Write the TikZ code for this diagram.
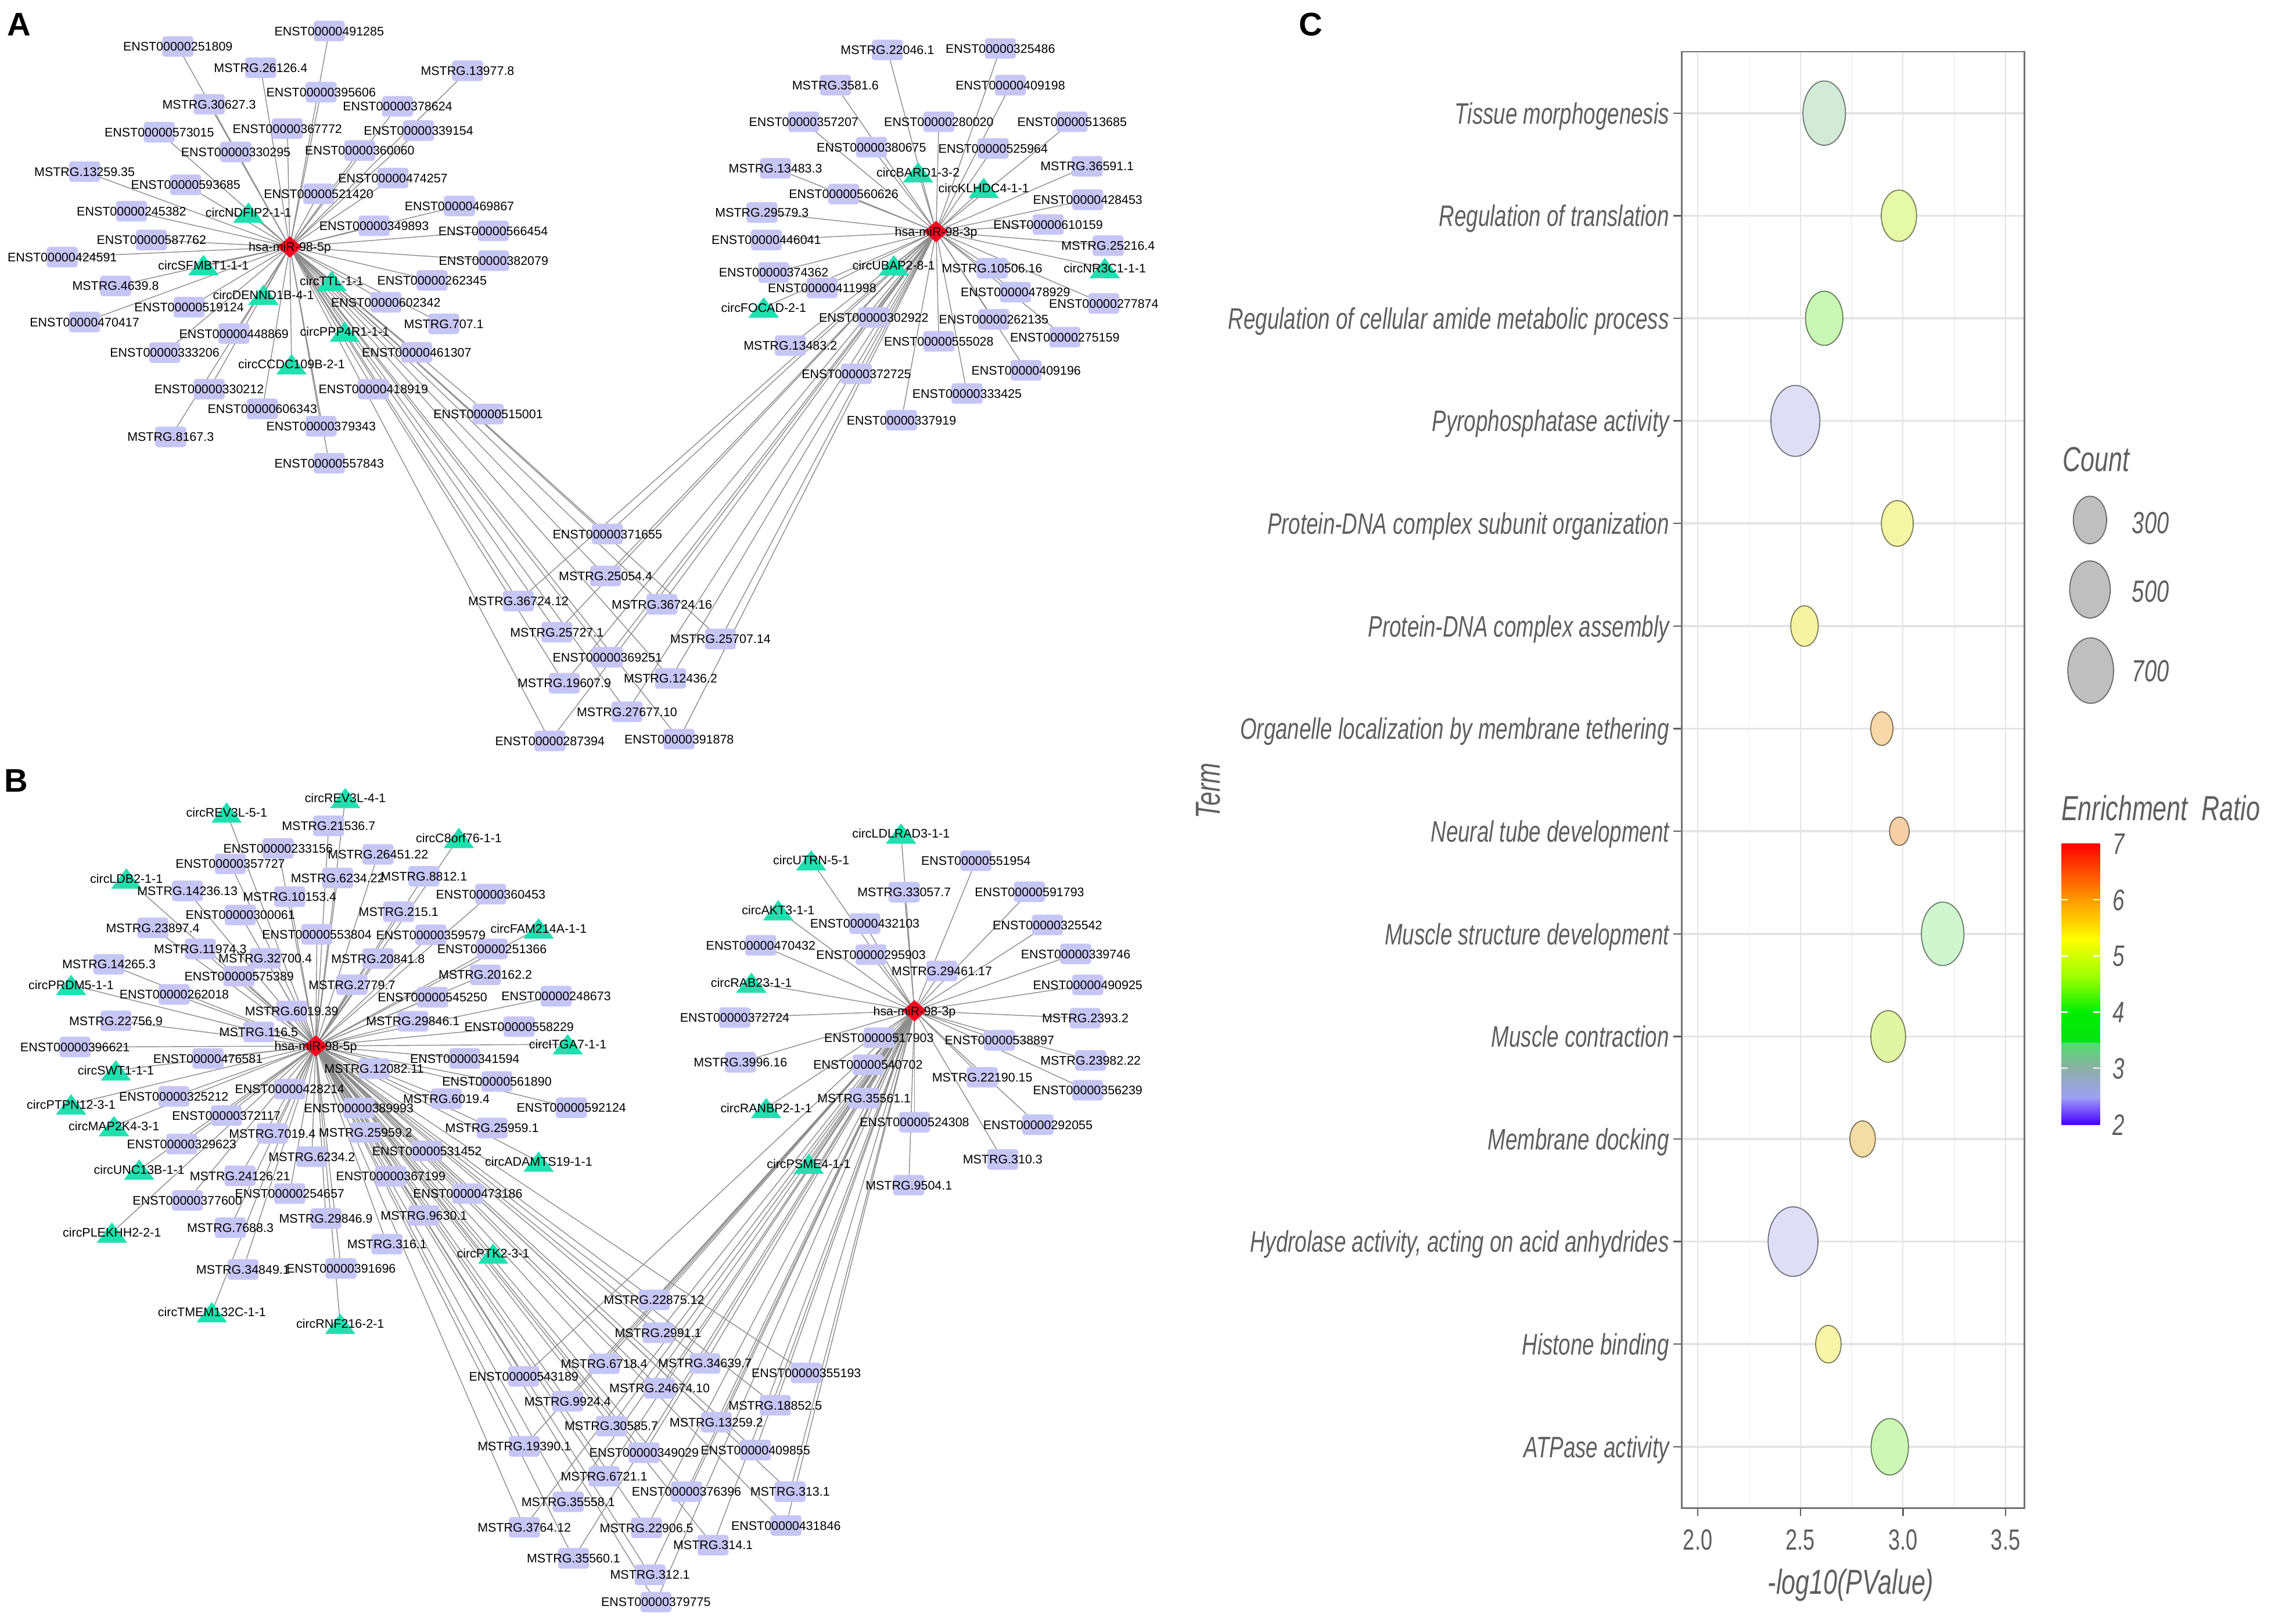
\documentclass[tikz,border=0pt]{standalone}
\usepackage{fontspec}
\setmainfont{Liberation Sans}
\newfontfamily\cf[FakeStretch=0.72]{Liberation Sans}
\usetikzlibrary{shapes.geometric}
\definecolor{boxc}{HTML}{C6C6F6}
\definecolor{triC}{HTML}{20E0B0}
\definecolor{hubC}{HTML}{FF0020}
\definecolor{edgeC}{HTML}{8C8C8C}
\definecolor{txtC}{HTML}{5E5E5E}
\definecolor{gridC}{HTML}{E4E4E4}
\definecolor{gridM}{HTML}{F0F0F0}
\definecolor{dA}{HTML}{D3EAD8}
\definecolor{dB}{HTML}{E6F9A6}
\definecolor{dC}{HTML}{C9F7B5}
\definecolor{dD}{HTML}{DEDEF7}
\definecolor{dE}{HTML}{F4F6A4}
\definecolor{dF}{HTML}{F6F4A2}
\definecolor{dG}{HTML}{F8D8A8}
\definecolor{dH}{HTML}{F8CFA6}
\definecolor{dI}{HTML}{CFF6CF}
\definecolor{dJ}{HTML}{E0F6A4}
\definecolor{dK}{HTML}{F4DCA6}
\definecolor{dL}{HTML}{DEDEF7}
\definecolor{dM}{HTML}{F8F4A8}
\definecolor{dN}{HTML}{CCF7B4}
\pgfdeclarelayer{back}\pgfdeclarelayer{bg}\pgfdeclarelayer{mid}
\pgfsetlayers{back,bg,mid,main}
\tikzset{
 tbox/.style={rectangle, rounded corners=0.05cm, fill=boxc, minimum width=0.536cm, minimum height=0.354cm, inner sep=0pt},
 tri/.style={rectangle, inner sep=0pt, minimum width=0.524cm, minimum height=0.349cm,
   path picture={\fill[triC] (path picture bounding box.south west) -- (path picture bounding box.south east) -- (path picture bounding box.north) -- cycle;}},
 hub/.style={diamond, fill=hubC, minimum width=0.424cm, minimum height=0.374cm, inner sep=0pt},
 lab/.style={inner sep=0pt, font=\fontsize{6.1}{7}\selectfont, text height=4.4pt, text depth=0pt},
 lnk/.style={draw=edgeC, line width=0.4pt},
 ctxt/.style={inner sep=0pt, text=txtC, text depth=0pt},
 pletter/.style={inner sep=0pt, font=\fontsize{16}{18}\selectfont\bfseries},
}
\newcommand\NdBox[4]{\begin{pgfonlayer}{mid}\node[tbox] (#1) at (#2,#3) {};\end{pgfonlayer}\node[lab] (#1l) at (#2,#3) {#4};}
\newcommand\NdTri[4]{\begin{pgfonlayer}{mid}\node[tri] (#1) at (#2,#3) {};\end{pgfonlayer}\node[lab] (#1l) at (#2,#3) {#4};}
\newcommand\NdHub[4]{\begin{pgfonlayer}{mid}\node[hub] (#1) at (#2,#3) {};\end{pgfonlayer}\node[lab] (#1l) at (#2,#3) {#4};}
\begin{document}
\begin{tikzpicture}[x=0.024936cm, y=-0.024936cm]
\useasboundingbox (0,0) rectangle (1568,1121);
\begin{pgfonlayer}{back}
\fill[white] (0,0) rectangle (1568,1121);
\end{pgfonlayer}
\node[pletter] (pA) at (13,17) {A};
\node[pletter] (pB) at (11,539) {B};
\node[pletter] (pC) at (905,17) {C};
% ================= PANEL A left
\NdHub{ha}{200.1}{170.5}{hsa-miR-98-5p}
\NdBox{a1}{227.3}{21.4}{ENST00000491285}
\NdBox{a2}{122.8}{32.1}{ENST00000251809}
\NdBox{a3}{180.0}{46.8}{MSTRG.26126.4}
\NdBox{a4}{322.8}{48.9}{MSTRG.13977.8}
\NdBox{a5}{221.7}{63.6}{ENST00000395606}
\NdBox{a6}{144.4}{72.0}{MSTRG.30627.3}
\NdBox{a7}{274.5}{73.4}{ENST00000378624}
\NdBox{a8}{110.0}{91.3}{ENST00000573015}
\NdBox{a9}{198.4}{88.8}{ENST00000367772}
\NdBox{a10}{289.0}{90.2}{ENST00000339154}
\NdBox{a11}{162.8}{104.9}{ENST00000330295}
\NdBox{a12}{248.4}{103.9}{ENST00000360060}
\NdBox{a13}{58.4}{118.5}{MSTRG.13259.35}
\NdBox{a14}{128.2}{127.6}{ENST00000593685}
\NdBox{a15}{271.3}{122.9}{ENST00000474257}
\NdBox{a16}{220.0}{133.8}{ENST00000521420}
\NdBox{a17}{90.8}{145.8}{ENST00000245382}
\NdBox{a18}{317.2}{142.2}{ENST00000469867}
\NdBox{a19}{258.3}{155.9}{ENST00000349893}
\NdBox{a20}{340.5}{159.4}{ENST00000566454}
\NdBox{a21}{104.6}{165.7}{ENST00000587762}
\NdBox{a22}{43.0}{177.5}{ENST00000424591}
\NdBox{a23}{340.8}{180.0}{ENST00000382079}
\NdBox{a24}{298.3}{193.6}{ENST00000262345}
\NdBox{a25}{79.8}{197.4}{MSTRG.4639.8}
\NdBox{a26}{266.4}{208.7}{ENST00000602342}
\NdBox{a27}{130.6}{212.1}{ENST00000519124}
\NdBox{a28}{58.4}{222.3}{ENST00000470417}
\NdBox{a29}{306.4}{223.6}{MSTRG.707.1}
\NdBox{a30}{161.5}{230.3}{ENST00000448869}
\NdBox{a31}{113.7}{243.5}{ENST00000333206}
\NdBox{a32}{287.7}{243.3}{ENST00000461307}
\NdBox{a33}{144.4}{268.7}{ENST00000330212}
\NdBox{a34}{257.8}{268.7}{ENST00000418919}
\NdBox{a35}{181.2}{282.3}{ENST00000606343}
\NdBox{a36}{337.1}{285.9}{ENST00000515001}
\NdBox{a37}{221.7}{294.3}{ENST00000379343}
\NdBox{a38}{117.8}{301.6}{MSTRG.8167.3}
\NdBox{a39}{227.3}{319.8}{ENST00000557843}
\NdTri{ta1}{171.5}{146.8}{circNDFIP2-1-1}
\NdTri{ta2}{140.5}{183.0}{circSFMBT1-1-1}
\NdTri{ta3}{229.0}{194.0}{circTTL-1-1}
\NdTri{ta4}{181.9}{203.5}{circDENND1B-4-1}
\NdTri{ta5}{238.0}{229.0}{circPPP4R1-1-1}
\NdTri{ta6}{201.3}{251.5}{circCCDC109B-2-1}
% ================= PANEL A right
\NdHub{hb}{646.3}{159.9}{hsa-miR-98-3p}
\NdBox{b1}{612.7}{34.5}{MSTRG.22046.1}
\NdBox{b2}{690.7}{33.5}{ENST00000325486}
\NdBox{b3}{576.8}{58.8}{MSTRG.3581.6}
\NdBox{b4}{697.6}{58.8}{ENST00000409198}
\NdBox{b5}{554.9}{84.1}{ENST00000357207}
\NdBox{b6}{648.2}{84.1}{ENST00000280020}
\NdBox{b7}{740.2}{84.1}{ENST00000513685}
\NdBox{b8}{601.7}{101.6}{ENST00000380675}
\NdBox{b9}{685.7}{102.5}{ENST00000525964}
\NdBox{b10}{535.4}{116.2}{MSTRG.13483.3}
\NdBox{b11}{750.6}{114.8}{MSTRG.36591.1}
\NdBox{b12}{582.5}{134.0}{ENST00000560626}
\NdBox{b13}{751.0}{137.9}{ENST00000428453}
\NdBox{b14}{526.1}{146.7}{MSTRG.29579.3}
\NdBox{b15}{723.7}{155.0}{ENST00000610159}
\NdBox{b16}{529.1}{165.7}{ENST00000446041}
\NdBox{b17}{765.1}{169.6}{MSTRG.25216.4}
\NdBox{b18}{685.0}{185.2}{MSTRG.10506.16}
\NdBox{b19}{534.2}{188.1}{ENST00000374362}
\NdBox{b20}{567.6}{198.8}{ENST00000411998}
\NdBox{b21}{701.1}{201.7}{ENST00000478929}
\NdBox{b22}{762.1}{209.5}{ENST00000277874}
\NdBox{b23}{603.3}{219.2}{ENST00000302922}
\NdBox{b24}{686.1}{220.5}{ENST00000262135}
\NdBox{b25}{735.2}{232.8}{ENST00000275159}
\NdBox{b26}{545.7}{238.6}{MSTRG.13483.2}
\NdBox{b27}{648.2}{235.7}{ENST00000555028}
\NdBox{b28}{708.5}{255.7}{ENST00000409196}
\NdBox{b29}{591.3}{258.1}{ENST00000372725}
\NdBox{b30}{667.7}{271.7}{ENST00000333425}
\NdBox{b31}{622.4}{290.1}{ENST00000337919}
\NdTri{tb1}{633.9}{119.0}{circBARD1-3-2}
\NdTri{tb2}{679.2}{129.7}{circKLHDC4-1-1}
\NdTri{tb3}{617.1}{183.2}{circUBAP2-8-1}
\NdTri{tb4}{762.8}{185.1}{circNR3C1-1-1}
\NdTri{tb5}{527.3}{212.3}{circFOCAD-2-1}
% ================= PANEL A bottom (shared)
\NdBox{c1}{419.4}{368.7}{ENST00000371655}
\NdBox{c2}{418.1}{397.7}{MSTRG.25054.4}
\NdBox{c3}{357.9}{415.0}{MSTRG.36724.12}
\NdBox{c4}{457.0}{417.2}{MSTRG.36724.16}
\NdBox{c5}{384.5}{436.5}{MSTRG.25727.1}
\NdBox{c6}{497.4}{441.2}{MSTRG.25707.14}
\NdBox{c7}{419.4}{453.8}{ENST00000369251}
\NdBox{c8}{463.0}{468.4}{MSTRG.12436.2}
\NdBox{c9}{389.6}{471.7}{MSTRG.19607.9}
\NdBox{c10}{432.9}{491.4}{MSTRG.27677.10}
\NdBox{c11}{379.7}{511.6}{ENST00000287394}
\NdBox{c12}{468.9}{510.3}{ENST00000391878}
% ================= PANEL B left
\NdHub{hd}{218.0}{722.2}{hsa-miR-98-5p}
\NdBox{d1}{226.9}{570.2}{MSTRG.21536.7}
\NdBox{d2}{192.0}{585.8}{ENST00000233156}
\NdBox{d3}{261.0}{589.9}{MSTRG.26451.22}
\NdBox{d4}{159.0}{596.4}{ENST00000357727}
\NdBox{d5}{233.1}{606.2}{MSTRG.6234.22}
\NdBox{d6}{292.7}{605.0}{MSTRG.8812.1}
\NdBox{d7}{129.4}{615.1}{MSTRG.14236.13}
\NdBox{d8}{200.0}{619.1}{MSTRG.10153.4}
\NdBox{d9}{338.8}{617.3}{ENST00000360453}
\NdBox{d10}{165.9}{631.7}{ENST00000300061}
\NdBox{d11}{275.2}{629.5}{MSTRG.215.1}
\NdBox{d12}{105.5}{640.6}{MSTRG.23897.4}
\NdBox{d13}{218.8}{645.1}{ENST00000553804}
\NdBox{d14}{297.5}{645.4}{ENST00000359579}
\NdBox{d15}{138.3}{655.2}{MSTRG.11974.3}
\NdBox{d16}{183.1}{661.7}{MSTRG.32700.4}
\NdBox{d17}{261.0}{661.8}{MSTRG.20841.8}
\NdBox{d18}{339.7}{655.2}{ENST00000251366}
\NdBox{d19}{75.2}{665.8}{MSTRG.14265.3}
\NdBox{d20}{165.1}{674.0}{ENST00000575389}
\NdBox{d21}{335.1}{673.0}{MSTRG.20162.2}
\NdBox{d22}{243.0}{679.9}{MSTRG.2779.7}
\NdBox{d23}{120.3}{686.6}{ENST00000262018}
\NdBox{d24}{298.6}{688.5}{ENST00000545250}
\NdBox{d25}{384.0}{687.8}{ENST00000248673}
\NdBox{d26}{201.4}{698.0}{MSTRG.6019.39}
\NdBox{d27}{80.0}{704.8}{MSTRG.22756.9}
\NdBox{d28}{285.1}{705.1}{MSTRG.29846.1}
\NdBox{d29}{358.4}{708.8}{ENST00000558229}
\NdBox{d30}{178.6}{712.5}{MSTRG.116.5}
\NdBox{d31}{51.8}{722.9}{ENST00000396621}
\NdBox{d32}{143.6}{730.8}{ENST00000476581}
\NdBox{d33}{320.9}{730.8}{ENST00000341594}
\NdBox{d34}{258.3}{737.8}{MSTRG.12082.11}
\NdBox{d35}{343.1}{746.7}{ENST00000561890}
\NdBox{d36}{200.0}{751.9}{ENST00000428214}
\NdBox{d37}{120.0}{757.0}{ENST00000325212}
\NdBox{d38}{247.8}{765.1}{ENST00000389993}
\NdBox{d39}{308.2}{758.6}{MSTRG.6019.4}
\NdBox{d40}{394.5}{764.8}{ENST00000592124}
\NdBox{d41}{156.3}{770.2}{ENST00000372117}
\NdBox{d42}{188.0}{782.5}{MSTRG.7019.4}
\NdBox{d43}{252.4}{781.9}{MSTRG.25959.2}
\NdBox{d44}{339.7}{778.8}{MSTRG.25959.1}
\NdBox{d45}{125.4}{789.9}{ENST00000329623}
\NdBox{d46}{294.8}{794.6}{ENST00000531452}
\NdBox{d47}{215.3}{798.6}{MSTRG.6234.2}
\NdBox{d48}{165.7}{811.8}{MSTRG.24126.21}
\NdBox{d49}{269.8}{812.1}{ENST00000367199}
\NdBox{d50}{200.0}{824.1}{ENST00000254657}
\NdBox{d51}{323.0}{824.1}{ENST00000473186}
\NdBox{d52}{129.4}{828.8}{ENST00000377600}
\NdBox{d53}{225.0}{841.3}{MSTRG.29846.9}
\NdBox{d54}{292.7}{839.2}{MSTRG.9630.1}
\NdBox{d55}{159.0}{847.6}{MSTRG.7688.3}
\NdBox{d56}{267.2}{859.0}{MSTRG.316.1}
\NdBox{d57}{167.8}{876.5}{MSTRG.34849.1}
\NdBox{d58}{235.5}{875.8}{ENST00000391696}
\NdTri{td1}{238.4}{551.0}{circREV3L-4-1}
\NdTri{td2}{156.5}{561.0}{circREV3L-5-1}
\NdTri{td3}{316.8}{578.5}{circC8orf76-1-1}
\NdTri{td4}{87.3}{606.5}{circLDB2-1-1}
\NdTri{td5}{371.9}{641.0}{circFAM214A-1-1}
\NdTri{td6}{49.1}{680.0}{circPRDM5-1-1}
\NdTri{td7}{392.0}{721.0}{circITGA7-1-1}
\NdTri{td8}{80.0}{739.0}{circSWT1-1-1}
\NdTri{td9}{49.1}{762.5}{circPTPN12-3-1}
\NdTri{td10}{78.7}{777.5}{circMAP2K4-3-1}
\NdTri{td11}{371.9}{802.0}{circADAMTS19-1-1}
\NdTri{td12}{96.1}{807.5}{circUNC13B-1-1}
\NdTri{td13}{77.3}{851.0}{circPLEKHH2-2-1}
\NdTri{td14}{340.5}{865.5}{circPTK2-3-1}
\NdTri{td15}{146.3}{906.0}{circTMEM132C-1-1}
\NdTri{td16}{234.9}{914.0}{circRNF216-2-1}
% ================= PANEL B right
\NdHub{he}{631.4}{697.9}{hsa-miR-98-3p}
\NdBox{e1}{673.8}{594.3}{ENST00000551954}
\NdBox{e2}{624.3}{616.0}{MSTRG.33057.7}
\NdBox{e3}{710.8}{615.7}{ENST00000591793}
\NdBox{e4}{597.1}{637.7}{ENST00000432103}
\NdBox{e5}{723.2}{638.6}{ENST00000325542}
\NdBox{e6}{525.3}{652.7}{ENST00000470432}
\NdBox{e7}{601.4}{659.1}{ENST00000295903}
\NdBox{e8}{742.7}{658.6}{ENST00000339746}
\NdBox{e9}{650.3}{670.4}{MSTRG.29461.17}
\NdBox{e10}{751.0}{680.0}{ENST00000490925}
\NdBox{e11}{507.3}{702.6}{ENST00000372724}
\NdBox{e12}{749.3}{703.0}{MSTRG.2393.2}
\NdBox{e13}{606.9}{716.5}{ENST00000517903}
\NdBox{e14}{690.1}{718.3}{ENST00000538897}
\NdBox{e15}{511.2}{733.4}{MSTRG.3996.16}
\NdBox{e16}{753.0}{732.2}{MSTRG.23982.22}
\NdBox{e17}{599.3}{735.1}{ENST00000540702}
\NdBox{e18}{678.2}{743.8}{MSTRG.22190.15}
\NdBox{e19}{751.0}{752.7}{ENST00000356239}
\NdBox{e20}{596.6}{758.3}{MSTRG.35561.1}
\NdBox{e21}{631.4}{774.8}{ENST00000524308}
\NdBox{e22}{716.6}{776.5}{ENST00000292055}
\NdBox{e23}{692.3}{800.5}{MSTRG.310.3}
\NdBox{e24}{627.5}{818.3}{MSTRG.9504.1}
\NdTri{te1}{622.1}{575.5}{circLDLRAD3-1-1}
\NdTri{te2}{560.1}{594.0}{circUTRN-5-1}
\NdTri{te3}{537.3}{628.5}{circAKT3-1-1}
\NdTri{te4}{518.8}{678.5}{circRAB23-1-1}
\NdTri{te5}{529.0}{765.0}{circRANBP2-1-1}
\NdTri{te6}{558.4}{803.5}{circPSME4-1-1}
% ================= PANEL B bottom (shared)
\NdBox{f1}{451.6}{897.5}{MSTRG.22875.12}
\NdBox{f2}{454.4}{920.2}{MSTRG.2991.1}
\NdBox{f3}{417.1}{941.6}{MSTRG.6718.4}
\NdBox{f4}{486.7}{941.3}{MSTRG.34639.7}
\NdBox{f5}{361.6}{950.3}{ENST00000543189}
\NdBox{f6}{556.7}{947.9}{ENST00000355193}
\NdBox{f7}{455.4}{958.5}{MSTRG.24674.10}
\NdBox{f8}{391.9}{967.5}{MSTRG.9924.4}
\NdBox{f9}{535.3}{970.2}{MSTRG.18852.5}
\NdBox{f10}{494.6}{982.0}{MSTRG.13259.2}
\NdBox{f11}{422.1}{984.6}{MSTRG.30585.7}
\NdBox{f12}{362.0}{998.6}{MSTRG.19390.1}
\NdBox{f13}{444.7}{1003.0}{ENST00000349029}
\NdBox{f14}{521.6}{1001.2}{ENST00000409855}
\NdBox{f15}{417.1}{1019.3}{MSTRG.6721.1}
\NdBox{f16}{474.0}{1029.9}{ENST00000376396}
\NdBox{f17}{545.5}{1029.9}{MSTRG.313.1}
\NdBox{f18}{392.3}{1036.9}{MSTRG.35558.1}
\NdBox{f19}{362.0}{1054.5}{MSTRG.3764.12}
\NdBox{f20}{446.4}{1054.8}{MSTRG.22906.5}
\NdBox{f21}{542.7}{1053.2}{ENST00000431846}
\NdBox{f22}{492.3}{1066.8}{MSTRG.314.1}
\NdBox{f23}{396.0}{1075.9}{MSTRG.35560.1}
\NdBox{f24}{448.8}{1087.2}{MSTRG.312.1}
\NdBox{f25}{452.9}{1106.1}{ENST00000379775}
% ================= edges
\begin{pgfonlayer}{bg}
\foreach \i in {1,...,39} \draw[lnk] (ha.center) -- (a\i.center);
\foreach \i in {1,...,6} \draw[lnk] (ha.center) -- (ta\i.center);
\foreach \i in {1,...,31} \draw[lnk] (hb.center) -- (b\i.center);
\foreach \i in {1,...,5} \draw[lnk] (hb.center) -- (tb\i.center);
\foreach \i in {1,...,12} {\draw[lnk] (ha.center) -- (c\i.center); \draw[lnk] (hb.center) -- (c\i.center);}
\foreach \i in {1,...,58} \draw[lnk] (hd.center) -- (d\i.center);
\foreach \i in {1,...,16} \draw[lnk] (hd.center) -- (td\i.center);
\foreach \i in {1,...,24} \draw[lnk] (he.center) -- (e\i.center);
\foreach \i in {1,...,6} \draw[lnk] (he.center) -- (te\i.center);
\foreach \i in {1,...,25} {\draw[lnk] (hd.center) -- (f\i.center); \draw[lnk] (he.center) -- (f\i.center);}
\end{pgfonlayer}
% ================= PANEL C
\fill[white] (1161.1,35.7) rectangle (1397.6,1041.4);
\foreach \v in {2.25,2.75,3.25} {\pgfmathsetmacro\xx{1172.2+(\v-2)*141.7}\draw[gridM, line width=0.5pt] (\xx,35.7) -- (\xx,1041.4);}
\foreach \v in {2,2.5,3,3.5} {\pgfmathsetmacro\xx{1172.2+(\v-2)*141.7}\draw[gridC, line width=0.6pt] (\xx,35.7) -- (\xx,1041.4);}
\foreach \i in {1,...,14} {\pgfmathsetmacro\yy{78.1+(\i-1)*70.83}\draw[gridC, line width=1pt] (1161.1,\yy) -- (1397.6,\yy);
  \draw[txtC, line width=0.7pt] (1155.3,\yy) -- (1161.1,\yy);}
\draw[draw=black!55, line width=0.8pt] (1161.1,35.7) rectangle (1397.6,1041.4);
\foreach \v/\s in {2/2.0,2.5/2.5,3/3.0,3.5/3.5} {\pgfmathsetmacro\xx{1172.2+(\v-2)*141.7}
  \draw[txtC, line width=0.7pt] (\xx,1041.4) -- (\xx,1046.7);
  \node[ctxt, font=\cf\fontsize{14.3}{16}\selectfont, text height=10.2pt] (xt\s) at (\xx,1063.1) {\s};}
\foreach \i/\t/\x/\rx/\ry/\c in {
 1/{Tissue morphogenesis}/1259.5/14.7/22.2/dA,
 2/{Regulation of translation}/1311.1/12.2/17.7/dB,
 3/{Regulation of cellular amide metabolic process}/1259.5/12.9/18.7/dC,
 4/{Pyrophosphatase activity}/1239.6/16.9/24.5/dD,
 5/{Protein-DNA complex subunit organization}/1310.0/11.0/15.8/dE,
 6/{Protein-DNA complex assembly}/1245.9/9.5/14.0/dF,
 7/{Organelle localization by membrane tethering}/1299.3/7.7/11.6/dG,
 8/{Neural tube development}/1311.4/6.8/9.8/dH,
 9/{Muscle structure development}/1341.3/14.7/21.9/dI,
 10/{Muscle contraction}/1303.7/12.0/17.8/dJ,
 11/{Membrane docking}/1286.0/8.8/12.5/dK,
 12/{Hydrolase activity, acting on acid anhydrides}/1238.0/17.2/24.0/dL,
 13/{Histone binding}/1262.4/8.8/13.0/dM,
 14/{ATPase activity}/1304.8/12.9/19.5/dN} {
  \pgfmathsetmacro\yy{78.1+(\i-1)*70.83}
  \draw[draw=\c!50!black, fill=\c, line width=0.5pt] (\x,\yy) ellipse [x radius=\rx, y radius=\ry];
  \node[ctxt, anchor=east, font=\cf\itshape\fontsize{14.5}{16}\selectfont, text height=10.4pt] (term\i) at (1152.7,\yy) {\t};
}
\node[ctxt, font=\cf\itshape\fontsize{17}{19}\selectfont] (xlab) at (1277.9,1092.0) {-log10(PValue)};
\node[ctxt, rotate=90, font=\cf\itshape\fontsize{17}{19}\selectfont] (ylab) at (834,546) {Term};
% legend
\node[ctxt, anchor=west, font=\cf\itshape\fontsize{17}{19}\selectfont] (lcount) at (1424,317) {Count};
\draw[fill=black!25, draw=black!60, line width=0.5pt] (1443,359) ellipse [x radius=11.5, y radius=16.4];
\draw[fill=black!25, draw=black!60, line width=0.5pt] (1443,407) ellipse [x radius=14, y radius=19.7];
\draw[fill=black!25, draw=black!60, line width=0.5pt] (1443.5,463) ellipse [x radius=15.8, y radius=22.6];
\node[ctxt, font=\cf\itshape\fontsize{15}{17}\selectfont] (l300) at (1484.8,361) {300};
\node[ctxt, font=\cf\itshape\fontsize{15}{17}\selectfont] (l500) at (1484.8,408.4) {500};
\node[ctxt, font=\cf\itshape\fontsize{15}{17}\selectfont] (l700) at (1484.8,463.2) {700};
\node[ctxt, anchor=west, font=\cf\itshape\fontsize{17}{19}\selectfont] (lenr) at (1423,557.7) {Enrichment\ \ Ratio};
\shade[top color={rgb,255:red,255;green,0;blue,0}, bottom color={rgb,255:red,255;green,154;blue,0}] (1423.4,582.3) rectangle (1449.8,621.6);
\shade[top color={rgb,255:red,255;green,154;blue,0}, bottom color={rgb,255:red,255;green,255;blue,0}] (1423.4,621.1) rectangle (1449.8,648.8);
\shade[top color={rgb,255:red,255;green,255;blue,0}, bottom color={rgb,255:red,150;green,255;blue,0}] (1423.4,648.3) rectangle (1449.8,676.0);
\shade[top color={rgb,255:red,150;green,255;blue,0}, bottom color={rgb,255:red,0;green,238;blue,0}] (1423.4,675.5) rectangle (1449.8,699.2);
\shade[top color={rgb,255:red,0;green,238;blue,0}, bottom color={rgb,255:red,10;green,225;blue,20}] (1423.4,698.7) rectangle (1449.8,720.6);
\shade[top color={rgb,255:red,80;green,220;blue,110}, bottom color={rgb,255:red,140;green,175;blue,165}] (1423.4,720.1) rectangle (1449.8,738.0);
\shade[top color={rgb,255:red,140;green,175;blue,165}, bottom color={rgb,255:red,160;green,160;blue,245}] (1423.4,737.5) rectangle (1449.8,758.0);
\shade[top color={rgb,255:red,160;green,160;blue,245}, bottom color={rgb,255:red,70;green,0;blue,255}] (1423.4,757.5) rectangle (1449.8,776.4);
\foreach \v in {6,5,4,3} {\pgfmathsetmacro\yy{582.3+(7-\v)*38.82}
  \draw[white, line width=0.7pt] (1423.4,\yy) -- (1427.8,\yy);
  \draw[white, line width=0.7pt] (1445.4,\yy) -- (1449.8,\yy);}
\foreach \v in {7,6,5,4,3,2} {\pgfmathsetmacro\yy{582.3+(7-\v)*38.82}
  \node[ctxt, font=\cf\itshape\fontsize{14.5}{16}\selectfont, text height=10.4pt] (cb\v) at (1462.8,\yy) {\v};}
\end{tikzpicture}
\end{document}
